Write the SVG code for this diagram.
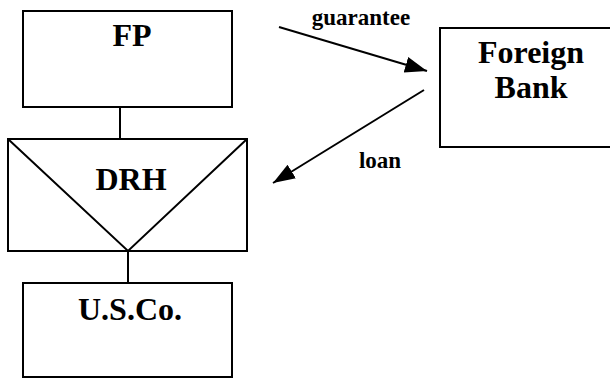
<svg xmlns="http://www.w3.org/2000/svg" width="610" height="379" viewBox="0 0 610 379">
<style>
.box{fill:#fff;stroke:#000;stroke-width:2}
.ln{fill:none;stroke:#000;stroke-width:2}
.nt{font-family:"Liberation Serif","Times New Roman",serif;font-weight:bold;font-size:32px;text-anchor:middle;fill:#000}
.lt{font-family:"Liberation Serif","Times New Roman",serif;font-weight:bold;font-size:23px;text-anchor:middle;fill:#000}
</style>
<defs>
<marker id="ah" markerUnits="userSpaceOnUse" markerWidth="24" markerHeight="18" refX="22" refY="8" orient="auto">
<path d="M0,0 L22,8 L0,16 z" fill="#000"/>
</marker>
</defs>
<rect width="610" height="379" fill="#fff"/>
<g id="connectors">
<line class="ln" x1="120" y1="107" x2="120" y2="139"/>
<line class="ln" x1="128" y1="251" x2="128" y2="283"/>
<line class="ln" x1="279" y1="27" x2="427" y2="71" marker-end="url(#ah)"/>
<line class="ln" x1="424" y1="90" x2="273" y2="183" marker-end="url(#ah)"/>
<text class="lt" x="361" y="25">guarantee</text>
<text class="lt" x="380" y="168">loan</text>
</g>
<g id="fp">
<rect class="box" x="23" y="11" width="209" height="96"/>
<text class="nt" x="132" y="46">FP</text>
</g>
<g id="drh">
<rect class="box" x="8" y="139" width="239" height="112"/>
<polyline class="ln" points="8,139 128,251 247,139"/>
<text class="nt" x="131" y="190">DRH</text>
</g>
<g id="usco">
<rect class="box" x="23" y="283" width="209" height="94"/>
<text class="nt" x="130" y="320">U.S.Co.</text>
</g>
<g id="foreignbank">
<rect class="box" x="440" y="28" width="180" height="119"/>
<text class="nt" x="531" y="63">Foreign</text>
<text class="nt" x="531" y="98">Bank</text>
</g>
</svg>
